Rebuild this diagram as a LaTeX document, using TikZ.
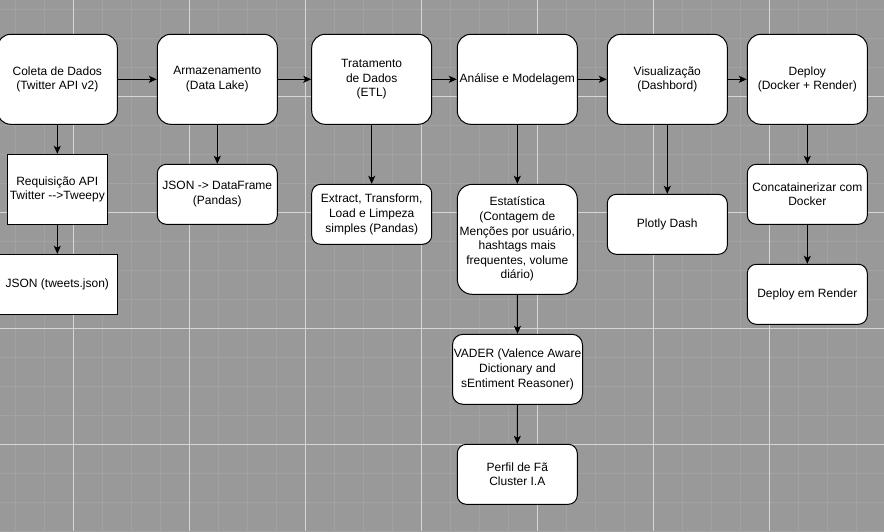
\documentclass[tikz,border=0pt]{standalone}
\usepackage{fontspec}
\setmainfont{Liberation Sans}
\usetikzlibrary{arrows.meta}
\definecolor{bggray}{HTML}{999999}
\definecolor{minorline}{HTML}{A2A2A2}
\definecolor{majorline}{HTML}{D6D6D6}
\begin{document}
\begin{tikzpicture}[x=1pt,y=-1pt,
  basebox/.style={draw=black, fill=white, line width=1pt, inner sep=0pt, align=center,
    font=\fontsize{12}{14.6}\selectfont, text=black},
  rbox/.style={basebox, rounded corners=#1},
  sbox/.style={basebox},
  arr/.style={draw=black, line width=1pt, -{Stealth[length=8pt,width=7pt,inset=2pt]}},
  minorgrid/.style={draw=minorline, line width=1.4pt},
  majorgrid/.style={draw=majorline, line width=0.9pt}
]
\fill[bggray] (0,0) rectangle (884,531);
\useasboundingbox (0,0) rectangle (884,531);
% grid
\foreach \i in {0,...,30} {
  \draw[minorgrid] ({15.3+29*\i},0) -- ({15.3+29*\i},531);
}
\foreach \i in {0,...,18} {
  \draw[minorgrid] (0,{9.3+29*\i}) -- (884,{9.3+29*\i});
}
\foreach \i in {0,...,7} {
  \draw[majorgrid] ({73.3+116*\i},0) -- ({73.3+116*\i},531);
}
\foreach \i in {0,...,4} {
  \draw[majorgrid] (0,{96.3+116*\i}) -- (884,{96.3+116*\i});
}
% nodes
\node[rbox=13.5pt, minimum width=120pt, minimum height=90pt] (coleta) at (57.3,79.3) {Coleta de Dados\\(Twitter API v2)};
\node[sbox, minimum width=100pt, minimum height=70pt] (req) at (57.3,189.3) {Requisição API\\Twitter {-}{-}>Tweepy};
\node[sbox, minimum width=120pt, minimum height=60pt] (json) at (57.3,284.3) {JSON (tweets.json)};
\node[rbox=13.5pt, minimum width=120pt, minimum height=90pt] (arm) at (217.3,79.3) {Armazenamento\\(Data Lake)};
\node[rbox=9pt, minimum width=120pt, minimum height=60pt] (df) at (217.3,194.3) {JSON {-}> DataFrame\\(Pandas)};
\node[rbox=13.5pt, minimum width=120pt, minimum height=90pt] (trat) at (371.7,79.3) {Tratamento\\de Dados\\(ETL)};
\node[rbox=9pt, minimum width=120pt, minimum height=60pt] (etl) at (371.7,214.3) {Extract, Transform,\\Load e Limpeza\\simples (Pandas)};
\node[rbox=13.5pt, minimum width=120pt, minimum height=90pt] (ana) at (517.3,79.3) {Análise e Modelagem};
\node[rbox=15pt, minimum width=120pt, minimum height=110pt] (est) at (517.3,239.3) {Estatística\\(Contagem de\\Menções por usuário,\\hashtags mais\\frequentes, volume\\diário)};
\node[rbox=10.5pt, minimum width=130pt, minimum height=70pt] (vader) at (517.5,369.3) {VADER (Valence Aware\\Dictionary and\\sEntiment Reasoner)};
\node[rbox=9pt, minimum width=120pt, minimum height=60pt] (perfil) at (517.3,474.3) {Perfil de Fã\\Cluster I.A};
\node[rbox=13.5pt, minimum width=120pt, minimum height=90pt] (vis) at (667.3,79.3) {Visualização\\(Dashbord)};
\node[rbox=9pt, minimum width=120pt, minimum height=60pt] (plotly) at (667.3,224.3) {Plotly Dash};
\node[rbox=13.5pt, minimum width=120pt, minimum height=90pt] (deploy) at (807.3,79.3) {Deploy\\(Docker + Render)};
\node[rbox=9pt, minimum width=120pt, minimum height=60pt] (concat) at (807.3,194.3) {Concatainerizar com\\Docker};
\node[rbox=9pt, minimum width=120pt, minimum height=60pt] (render) at (807.3,294.3) {Deploy em Render};
% connectors
\draw[arr] (coleta.east) -- (arm.west);
\draw[arr] (arm.east) -- (trat.west);
\draw[arr] (trat.east) -- (ana.west);
\draw[arr] (ana.east) -- (vis.west);
\draw[arr] (vis.east) -- (deploy.west);
\draw[arr] (coleta.south) -- (req.north);
\draw[arr] (req.south) -- (json.north);
\draw[arr] (arm.south) -- (df.north);
\draw[arr] (trat.south) -- (etl.north);
\draw[arr] (ana.south) -- (est.north);
\draw[arr] (est.south) -- (vader.north);
\draw[arr] (vader.south) -- (perfil.north);
\draw[arr] (vis.south) -- (plotly.north);
\draw[arr] (deploy.south) -- (concat.north);
\draw[arr] (concat.south) -- (render.north);
\end{tikzpicture}
\end{document}
